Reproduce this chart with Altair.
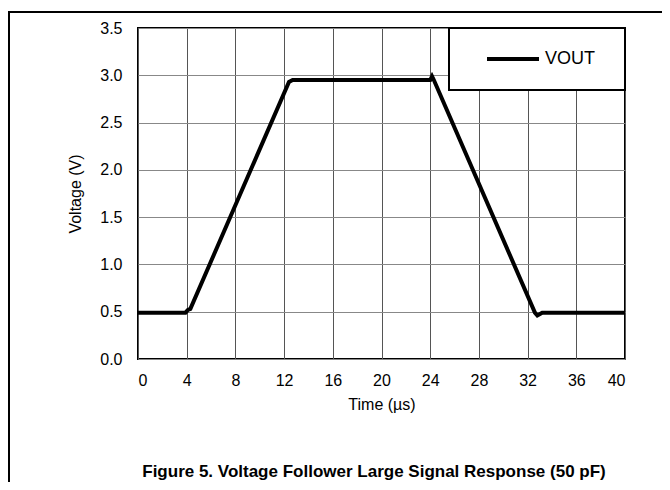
import altair as alt
import pandas as pd

# data
time_us = [0, 2, 3.9, 4.1, 4.3, 12.4, 12.7, 16, 20, 24.0, 24.15, 24.3, 32.6, 32.8, 33.2, 36, 40]
vout = [0.49, 0.49, 0.49, 0.52, 0.53, 2.93, 2.95, 2.95, 2.95, 2.95, 2.99, 2.95, 0.49, 0.46, 0.49, 0.49, 0.49]
series = ["VOUT"] * len(time_us)
x_ticks = list(range(0, 41, 4))
y_ticks = [0.0, 0.5, 1.0, 1.5, 2.0, 2.5, 3.0, 3.5]
caption = ["Figure 5. Voltage Follower Large Signal Response (50 pF)"]

df = pd.DataFrame({"t": time_us, "v": vout, "s": series})
FONT = "Liberation Sans"

line = alt.Chart(df).mark_line(strokeWidth=4, color="black", clip=True).encode(
    x=alt.X("t:Q", scale=alt.Scale(domain=[0, 40], nice=False),
            axis=alt.Axis(values=x_ticks, title="Time (µs)", format="d", grid=True,
                          gridColor="#555555", gridWidth=1, ticks=False, tickSize=0,
                          labelPadding=13, titlePadding=8, domain=False)),
    y=alt.Y("v:Q", scale=alt.Scale(domain=[0, 3.5], nice=False),
            axis=alt.Axis(values=y_ticks, title="Voltage (V)", format=".1f", grid=True,
                          gridColor="#888888", gridWidth=1, ticks=False, tickSize=0,
                          labelPadding=16, titlePadding=16, domain=False)),
    color=alt.Color("s:N", scale=alt.Scale(range=["black"]),
                    legend=alt.Legend(title="I", titleOrient="right", titleFontSize=10,
                                      titlePadding=5, titleOpacity=0,
                                      orient="top-right", offset=0,
                                      symbolType="M-4,0H4", symbolSize=169,
                                      symbolStrokeWidth=4, labelOffset=23,
                                      symbolOffset=33)),
)

cap = alt.Chart(pd.DataFrame({"c": caption})).mark_text(
    font=FONT, fontSize=17, fontWeight="bold", align="center", baseline="alphabetic", color="black"
).encode(text="c:N", x=alt.value(236), y=alt.value(449))

frame_top = alt.Chart(pd.DataFrame({"c": caption})).mark_rule(color="black", strokeWidth=2).encode(
    x=alt.value(-130), x2=alt.value(530), y=alt.value(-16))
frame_left = alt.Chart(pd.DataFrame({"c": caption})).mark_rule(color="black", strokeWidth=2).encode(
    x=alt.value(-129), y=alt.value(-16), y2=alt.value(460))

chart = alt.layer(line, cap, frame_top, frame_left).properties(
    width=487, height=331,
    autosize=alt.AutoSizeParams(type="none"),
    padding={"left": 130, "top": 20, "right": 37, "bottom": 123},
).configure_view(stroke="black", strokeWidth=2).configure_axis(
    labelFont=FONT, titleFont=FONT, labelFontSize=16, titleFontSize=16,
    labelColor="black", titleColor="black", titleFontWeight="normal",
).configure_legend(
    labelFont=FONT, labelFontSize=18, labelColor="black", padding=22,
    strokeColor="black", fillColor="white", strokeWidth=2,
)

chart.save("out.html", embed_options={"renderer": "svg", "actions": False})
